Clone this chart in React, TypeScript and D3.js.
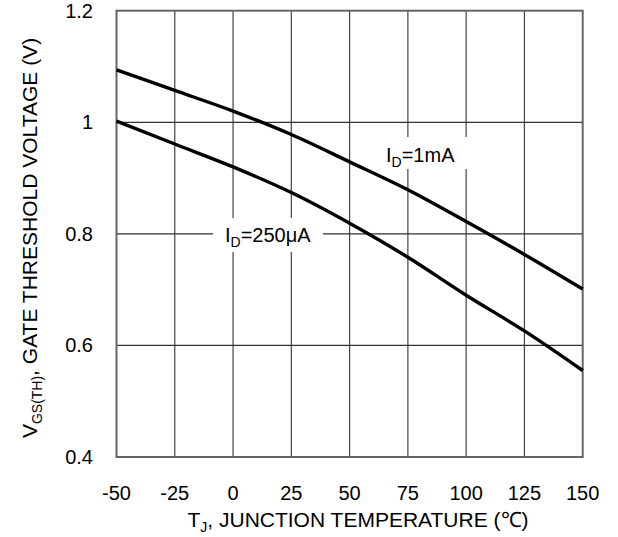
import React from "react";
import * as d3 from "d3";

const temps = [-50, -25, 0, 25, 50, 75, 100, 125, 150];
const vth1mA = [1.094, 1.057, 1.02, 0.978, 0.929, 0.879, 0.822, 0.763, 0.701];
const vth250uA = [1.002, 0.961, 0.92, 0.874, 0.819, 0.758, 0.69, 0.626, 0.555];
const xTicks = [-50, -25, 0, 25, 50, 75, 100, 125, 150];
const yTicks = [0.4, 0.6, 0.8, 1, 1.2];
const yTickLabels = ["0.4", "0.6", "0.8", "1", "1.2"];
const yGrid = [0.6, 0.8, 1.0];

const W = 618;
const H = 537;
const left = 116.5;
const right = 582.7;
const top = 10.7;
const bottom = 457;
const FONT = "'Liberation Sans', Arial, sans-serif";

export default function App() {
  const x = d3.scaleLinear().domain([-50, 150]).range([left, right]);
  const y = d3.scaleLinear().domain([0.4, 1.2]).range([bottom, top]);
  const line = d3
    .line<number>()
    .x((_, i) => x(temps[i]))
    .y((d) => y(d))
    .curve(d3.curveMonotoneX);

  return (
    <svg
      width={W}
      height={H}
      style={{ position: "absolute", left: 0, top: 0, background: "#fff" }}
      fontFamily={FONT}
    >
      <rect x={0} y={0} width={W} height={H} fill="#fff" />
      {/* grid */}
      {xTicks.slice(1, -1).map((t) => (
        <line key={"gx" + t} x1={x(t)} x2={x(t)} y1={top} y2={bottom} stroke="#444" strokeWidth={1.2} />
      ))}
      {yGrid.map((t) => (
        <line key={"gy" + t} x1={left} x2={right} y1={y(t)} y2={y(t)} stroke="#333" strokeWidth={1.2} />
      ))}
      {/* label backgrounds */}
      <rect x={380} y={137} width={92} height={32} fill="#fff" />
      <rect x={213} y={218} width={110} height={34} fill="#fff" />
      {/* frame */}
      <rect x={left} y={top} width={right - left} height={bottom - top} fill="none" stroke="#666" strokeWidth={2} />
      {/* curves */}
      <path d={line(vth1mA) || ""} fill="none" stroke="#000" strokeWidth={3.4} />
      <path d={line(vth250uA) || ""} fill="none" stroke="#000" strokeWidth={3.4} />
      {/* curve labels */}
      <text x={386} y={162} fontSize={20} fill="#000">
        I<tspan fontSize={14} dy={5}>D</tspan>
        <tspan dy={-5}>=1mA</tspan>
      </text>
      <text x={225} y={242} fontSize={20} fill="#000">
        I<tspan fontSize={14} dy={5}>D</tspan>
        <tspan dy={-5}>=250μA</tspan>
      </text>
      {/* x tick labels */}
      {xTicks.map((t) => (
        <text key={"xt" + t} x={x(t)} y={500} fontSize={20} textAnchor="middle" fill="#000">
          {t}
        </text>
      ))}
      {/* y tick labels */}
      {yTicks.map((t, i) => (
        <text key={"yt" + t} x={93} y={y(t) + 7} fontSize={20} textAnchor="end" fill="#000">
          {yTickLabels[i]}
        </text>
      ))}
      {/* x title */}
      <text x={358} y={527} fontSize={21} textAnchor="middle" fill="#000">
        T<tspan fontSize={14} dy={5}>J</tspan>
        <tspan dy={-5}>, JUNCTION TEMPERATURE (℃)</tspan>
      </text>
      {/* y title */}
      <text
        transform={`translate(37, 238) rotate(-90)`}
        fontSize={21}
        textAnchor="middle"
        fill="#000"
      >
        V<tspan fontSize={14} dy={5}>GS(TH)</tspan>
        <tspan dy={-5}>, GATE THRESHOLD VOLTAGE (V)</tspan>
      </text>
    </svg>
  );
}
